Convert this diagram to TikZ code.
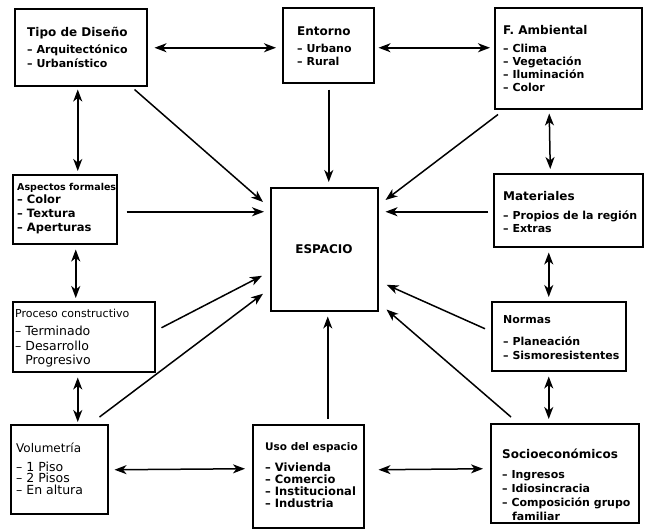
\documentclass[tikz,border=0pt]{standalone}
\usepackage{fontspec}
\setmainfont{DejaVu Sans}
\usetikzlibrary{arrows.meta,calc}
\newcommand\boxttl[1]{{\fontsize{12}{13.5}\selectfont #1}}
\begin{document}
\begin{tikzpicture}[x=1pt,y=-1pt,
 box/.style={draw,line width=1.5pt,anchor=north west,inner sep=0pt},
 txt/.style={anchor=north west,align=left,inner sep=0pt,font=\bfseries\fontsize{11}{13.5}\selectfont},
 txtr/.style={anchor=north west,align=left,inner sep=0pt,font=\fontsize{11}{13.5}\selectfont},
 dbl/.style={line width=1.5pt,{Stealth[length=12pt,width=9pt,inset=3.5pt]}-{Stealth[length=12pt,width=9pt,inset=3.5pt]}},
 inn/.style={line width=1.5pt,-{Stealth[length=12pt,width=9pt,inset=3.5pt]}}]
\useasboundingbox (0,0) rectangle (645,530);
% boxes
\node[box,minimum width=132pt,minimum height=77pt] (tipo) at (14,8) {};
\node[box,minimum width=91pt,minimum height=75pt] (ent) at (282,7) {};
\node[box,minimum width=147pt,minimum height=101pt] (amb) at (494,7) {};
\node[box,minimum width=104pt,minimum height=69pt] (asp) at (12,174) {};
\node[box,minimum width=149pt,minimum height=73pt] (mat) at (493,173) {};
\node[box,minimum width=107pt,minimum height=123pt] (esp) at (270,187) {};
\node[box,minimum width=142pt,minimum height=70pt] (proc) at (12,301) {};
\node[box,minimum width=97pt,minimum height=89pt] (vol) at (10,424) {};
\node[box,minimum width=111pt,minimum height=103pt] (uso) at (252,424) {};
\node[box,minimum width=134pt,minimum height=69pt] (nor) at (491,301) {};
\node[box,minimum width=148pt,minimum height=99pt] (soc) at (490,423) {};
% texts
\node[txt] (tipot) at (27,27) {\boxttl{Tipo de Diseño}\\[3.5pt] – Arquitectónico\\ – Urbanístico};
\node[txt] (entt) at (297,26.5) {\boxttl{Entorno}\\[3.5pt] – Urbano\\ – Rural};
\node[txt,font=\bfseries\fontsize{11}{13}\selectfont] (ambt) at (503,25) {\boxttl{F. Ambiental}\\[5pt] – Clima\\ – Vegetación\\ – Iluminación\\ – Color};
\node[txt,font=\bfseries\fontsize{11.5}{14}\selectfont] (aspt) at (17,183) {{\fontsize{9.5}{10}\selectfont Aspectos formales}\\[-1pt] – Color\\ – Textura\\ – Aperturas};
\node[txt] (matt) at (503,191) {\boxttl{Materiales}\\[5.5pt] – Propios de la región\\ – Extras};
\node[txt,font=\bfseries\fontsize{12}{14}\selectfont,anchor=center] (espt) at (324,249) {ESPACIO};
\node[txtr,font=\fontsize{12.5}{14.5}\selectfont] (proct) at (15,308.5) {{\fontsize{11}{13}\selectfont Proceso constructivo}\\[4pt] – Terminado\\ – Desarrollo\\ \phantom{– }Progresivo};
\node[txtr,font=\fontsize{12.5}{11.8}\selectfont] (volt) at (16,442.5) {\boxttl{Volumetría}\\[7pt] – 1 Piso\\ – 2 Pisos\\ – En altura};
\node[txt,font=\bfseries\fontsize{11.5}{11.8}\selectfont] (usot) at (265,442.5) {{\fontsize{10.5}{12}\selectfont Uso del espacio}\\[9.5pt] – Vivienda\\ – Comercio\\ – Institucional\\ – Industria};
\node[txt,font=\bfseries\fontsize{11}{14}\selectfont] (nort) at (503,315.5) {Normas\\[8pt] – Planeación\\ – Sismoresistentes};
\node[txt,font=\bfseries\fontsize{11}{14}\selectfont] (soct) at (502,449) {\boxttl{Socioeconómicos}\\[6pt] – Ingresos\\ – Idiosincracia\\ – Composición grupo\\ \hspace{10pt}familiar};
% double arrows
\draw[dbl] ($(tipo.east)+(7,0.5)$) -- ($(ent.west)+(-6,2.5)$);
\draw[dbl] ($(ent.east)+(4,2.5)$) -- ($(amb.west)+(-4,-10.5)$);
\draw[dbl] ($(tipo.south)+(-3,3)$) -- ($(asp.north)+(13,-3)$);
\draw[dbl] ($(asp.south)+(11,5)$) -- ($(proc.north)+(-8,-3)$);
\draw[dbl] ($(proc.south)+(-6,5)$) -- ($(vol.north)+(18.5,-2)$);
\draw[dbl] ($(vol.east)+(6,0.5)$) -- ($(uso.west)+(-7,-7.5)$);
\draw[dbl] ($(uso.east)+(14,-6.5)$) -- ($(soc.west)+(-7,-4.5)$);
\draw[dbl] ($(amb.south)+(-19,4)$) -- ($(mat.north)+(-18,-4)$);
\draw[dbl] ($(mat.south)+(-19.5,5)$) -- ($(nor.north)+(-10,-4)$);
\draw[dbl] ($(nor.south)+(-10,5)$) -- ($(soc.north)+(-16,-4)$);
% arrows into ESPACIO
\draw[inn] ($(tipo.south east)+(-13,3)$) -- ($(esp.north west)+(-7,15)$);
\draw[inn] ($(ent.south)+(0.5,6)$) -- ($(esp.north)+(4.5,-5)$);
\draw[inn] ($(amb.south west)+(4,5)$) -- ($(esp.north east)+(7,13)$);
\draw[inn] ($(asp.east)+(9,2.5)$) -- ($(esp.west)+(-6,-37.5)$);
\draw[inn] ($(mat.west)+(-5,1.5)$) -- ($(esp.east)+(7,-37.5)$);
\draw[inn] ($(proc.east)+(6,-9)$) -- ($(esp.west)+(-8,26.5)$);
\draw[inn] ($(vol.north east)+(-9,-7)$) -- ($(esp.west)+(-7,44.5)$);
\draw[inn] ($(uso.north)+(19.5,-5)$) -- ($(esp.south)+(3.5,5)$);
\draw[inn] ($(nor.west)+(-6,-7.5)$) -- ($(esp.east)+(8,35.5)$);
\draw[inn] ($(soc.north west)+(21,-6)$) -- ($(esp.south east)+(8,-2)$);
\end{tikzpicture}
\end{document}
